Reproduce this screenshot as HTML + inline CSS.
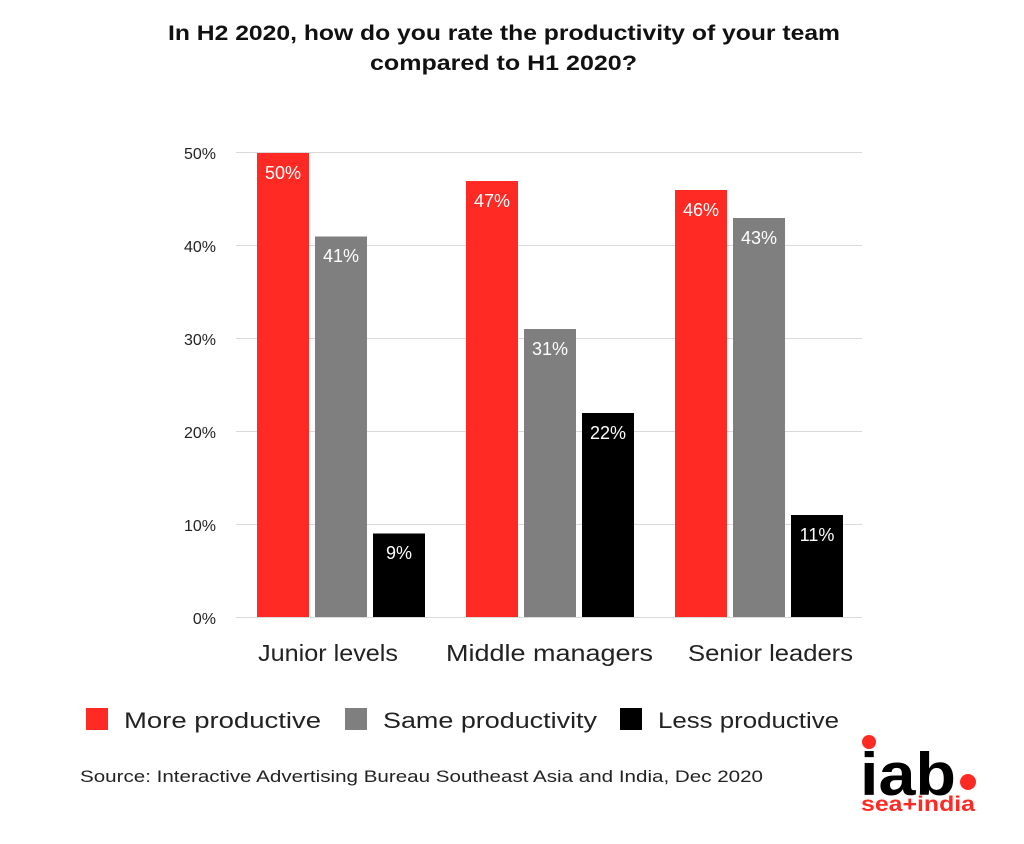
<!DOCTYPE html>
<html><head><style>body{margin:0;background:#fff}svg{display:block}</style></head><body>
<svg width="1024" height="844" xmlns="http://www.w3.org/2000/svg" font-family="Liberation Sans, sans-serif">
<rect width="1024" height="844" fill="#fff"/>
<text x="168" y="40" font-size="21" font-weight="bold" fill="#111" textLength="672" lengthAdjust="spacingAndGlyphs">In H2 2020, how do you rate the productivity of your team</text>
<text x="370" y="70" font-size="21" font-weight="bold" fill="#111" textLength="267" lengthAdjust="spacingAndGlyphs">compared to H1 2020?</text>
<g stroke="#d9d9d9" stroke-width="1">
<line x1="236" x2="862" y1="152.5" y2="152.5"/><line x1="236" x2="862" y1="245.5" y2="245.5"/>
<line x1="236" x2="862" y1="338.5" y2="338.5"/><line x1="236" x2="862" y1="431.5" y2="431.5"/>
<line x1="236" x2="862" y1="524.5" y2="524.5"/><line x1="236" x2="862" y1="617.5" y2="617.5"/>
</g>
<g font-size="16" fill="#222" text-anchor="end">
<text x="216" y="159">50%</text><text x="216" y="252">40%</text><text x="216" y="345">30%</text>
<text x="216" y="438">20%</text><text x="216" y="531">10%</text><text x="216" y="624">0%</text>
</g>
<g>
<rect x="257" y="153" width="52" height="464" fill="#ff2a23"/>
<rect x="315" y="236.5" width="52" height="380.5" fill="#7f7f7f"/>
<rect x="373" y="533.5" width="52" height="83.5" fill="#000"/>
<rect x="466" y="181" width="52" height="436" fill="#ff2a23"/>
<rect x="524" y="329" width="52" height="288" fill="#7f7f7f"/>
<rect x="582" y="413" width="52" height="204" fill="#000"/>
<rect x="675" y="190" width="52" height="427" fill="#ff2a23"/>
<rect x="733" y="218" width="52" height="399" fill="#7f7f7f"/>
<rect x="791" y="515" width="52" height="102" fill="#000"/>
</g>
<g font-size="18" fill="#fff" text-anchor="middle">
<text x="283" y="179">50%</text><text x="341" y="262">41%</text><text x="399" y="559">9%</text>
<text x="492" y="207">47%</text><text x="550" y="355">31%</text><text x="608" y="439">22%</text>
<text x="701" y="216">46%</text><text x="759" y="244">43%</text><text x="817" y="541">11%</text>
</g>
<g font-size="23" fill="#222">
<text x="258" y="661" textLength="140" lengthAdjust="spacingAndGlyphs">Junior levels</text><text x="446" y="661" textLength="207" lengthAdjust="spacingAndGlyphs">Middle managers</text><text x="688" y="661" textLength="165" lengthAdjust="spacingAndGlyphs">Senior leaders</text>
</g>
<g font-size="22" fill="#222">
<rect x="86" y="708" width="22" height="22" fill="#ff2a23"/><text x="124" y="728" textLength="197" lengthAdjust="spacingAndGlyphs">More productive</text>
<rect x="345" y="708" width="22" height="22" fill="#7f7f7f"/><text x="383" y="728" textLength="214" lengthAdjust="spacingAndGlyphs">Same productivity</text>
<rect x="620" y="708" width="22" height="22" fill="#000"/><text x="658" y="728" textLength="181" lengthAdjust="spacingAndGlyphs">Less productive</text>
</g>
<text x="80" y="782" font-size="17" fill="#222" textLength="683" lengthAdjust="spacingAndGlyphs">Source: Interactive Advertising Bureau Southeast Asia and India, Dec 2020</text>
<circle cx="869" cy="742" r="7" fill="#ff2a23"/>
<text x="860" y="795" font-size="60" font-weight="bold" fill="#000" textLength="96" lengthAdjust="spacingAndGlyphs">iab</text>
<circle cx="968" cy="782" r="8" fill="#ff2a23"/>
<text x="861" y="811" font-size="21" font-weight="bold" fill="#ff2a23" textLength="114" lengthAdjust="spacingAndGlyphs">sea+india</text>
</svg>
</body></html>
